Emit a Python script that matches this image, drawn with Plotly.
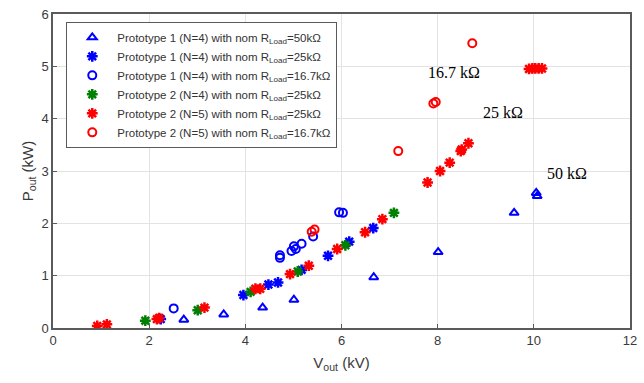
import plotly.graph_objects as go

# Prototype 1 (N=4), 50 kOhm
p1_50_v = [2.72, 3.55, 4.36, 5.01, 6.67, 8.01, 9.59, 10.05, 10.07]
p1_50_p = [0.16, 0.26, 0.39, 0.54, 0.97, 1.45, 2.20, 2.58, 2.52]
# Prototype 1 (N=4), 25 kOhm
p1_25_v = [2.24, 3.96, 4.48, 4.68, 5.17, 5.72, 6.16, 6.66]
p1_25_p = [0.17, 0.63, 0.83, 0.87, 1.11, 1.38, 1.65, 1.91]
# Prototype 1 (N=4), 16.7 kOhm
p1_16_v = [2.51, 4.72, 4.72, 4.96, 5.01, 5.05, 5.17, 5.41, 5.95, 6.03]
p1_16_p = [0.375, 1.39, 1.34, 1.47, 1.56, 1.51, 1.61, 1.75, 2.21, 2.20]
# Prototype 2 (N=4), 25 kOhm
p2n4_25_v = [1.92, 3.01, 4.11, 5.09, 6.08, 7.09]
p2n4_25_p = [0.14, 0.34, 0.69, 1.08, 1.58, 2.20]
# Prototype 2 (N=5), 25 kOhm
p2n5_25_v = [0.92, 1.12, 2.16, 2.21, 3.15, 4.21, 4.31, 4.93, 5.32, 5.91,
             6.49, 6.85, 7.79, 8.05, 8.25, 8.48, 8.50, 8.64,
             9.90, 9.97, 10.03, 10.10, 10.17]
p2n5_25_p = [0.04, 0.07, 0.17, 0.19, 0.39, 0.75, 0.75, 1.03, 1.19, 1.51,
             1.83, 2.08, 2.78, 3.00, 3.16, 3.38, 3.41, 3.53,
             4.95, 4.96, 4.96, 4.96, 4.96]
# Prototype 2 (N=5), 16.7 kOhm
p2n5_16_v = [5.38, 5.44, 7.18, 7.91, 7.96, 8.72]
p2n5_16_p = [1.84, 1.88, 3.38, 4.29, 4.32, 5.44]

labels = [
    "Prototype 1 (N=4) with nom R<sub>Load</sub>=50kΩ",
    "Prototype 1 (N=4) with nom R<sub>Load</sub>=25kΩ",
    "Prototype 1 (N=4) with nom R<sub>Load</sub>=16.7kΩ",
    "Prototype 2 (N=4) with nom R<sub>Load</sub>=25kΩ",
    "Prototype 2 (N=5) with nom R<sub>Load</sub>=25kΩ",
    "Prototype 2 (N=5) with nom R<sub>Load</sub>=16.7kΩ",
]

annot_text = ["16.7 kΩ", "25 kΩ", "50 kΩ"]
annot_x = [8.34, 9.36, 10.68]
annot_y = [4.89, 4.12, 2.96]

x_ticks = [0, 2, 4, 6, 8, 10, 12]
y_ticks = [0, 1, 2, 3, 4, 5, 6]

series = [
    (p1_50_v, p1_50_p, "triangle-up-open", "#0000ff", 8, 2),
    (p1_25_v, p1_25_p, "asterisk-open", "#0000ff", 9, 2.5),
    (p1_16_v, p1_16_p, "circle-open", "#0000ff", 8, 2),
    (p2n4_25_v, p2n4_25_p, "asterisk-open", "#008000", 9, 2.5),
    (p2n5_25_v, p2n5_25_p, "asterisk-open", "#ff0000", 9, 2.5),
    (p2n5_16_v, p2n5_16_p, "circle-open", "#ff0000", 8, 2),
]

fig = go.Figure()
for (xs, ys, sym, col, sz, lw), name in zip(series, labels):
    fig.add_trace(go.Scatter(
        x=xs, y=ys, mode="markers", name=name,
        marker=dict(symbol=sym, size=sz, color=col,
                    line=dict(color=col, width=lw)),
    ))

for t, ax, ay in zip(annot_text, annot_x, annot_y):
    fig.add_annotation(x=ax, y=ay, text=t, showarrow=False,
                       font=dict(family="Liberation Serif", size=16, color="black"))

axis_common = dict(
    showgrid=True, gridcolor="#e3e3e3", gridwidth=1,
    showline=True, linecolor="#5a5a5a", linewidth=1.5, mirror=True,
    ticks="inside", ticklen=4, tickcolor="#5a5a5a",
    zeroline=False,
    tickfont=dict(family="Liberation Sans", size=13, color="#3a3a3a"),
)

fig.update_xaxes(range=[0, 12], tickvals=x_ticks,
                 title=dict(text="V<sub>out</sub> (kV)", standoff=10,
                            font=dict(family="Liberation Sans", size=15, color="#3a3a3a")),
                 **axis_common)
fig.update_yaxes(range=[0, 6], tickvals=y_ticks,
                 title=dict(text="P<sub>out</sub> (kW)", standoff=4,
                            font=dict(family="Liberation Sans", size=15, color="#3a3a3a")),
                 **axis_common)

fig.update_layout(
    width=644, height=383,
    margin=dict(l=53, r=7, t=9, b=55),
    plot_bgcolor="white", paper_bgcolor="white",
    legend=dict(x=0.023, y=0.975, xanchor="left", yanchor="top",
                bgcolor="white", bordercolor="#5a5a5a", borderwidth=1,
                font=dict(family="Liberation Sans", size=11.5, color="#333333"),
                tracegroupgap=0, itemwidth=40),
)

fig.write_html("out.html")
